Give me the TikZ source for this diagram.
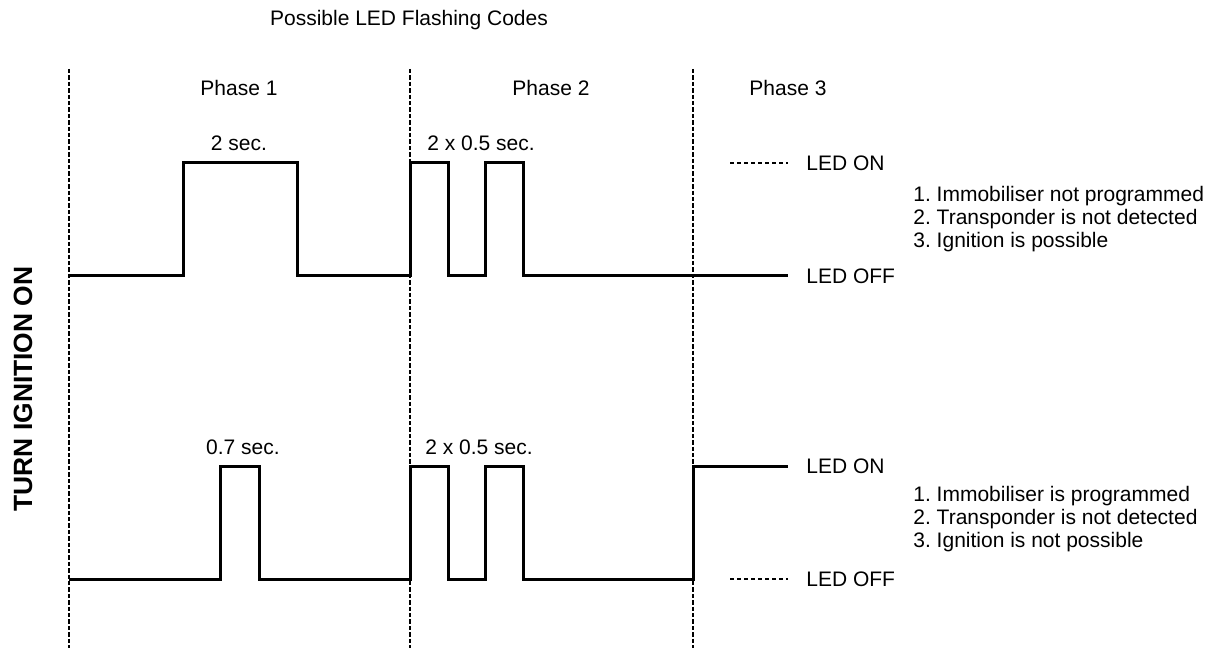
\documentclass[tikz,border=0pt]{standalone}
\usepackage{fontspec}
\setmainfont{Liberation Sans}
\usetikzlibrary{positioning}
\definecolor{ledBlack}{RGB}{0, 0, 0}
\frenchspacing

\begin{document}
\begin{tikzpicture}[
    x=0.5pt, y=-0.5pt,
    wave/.style={line width=1.5pt, ledBlack, line join=miter},
    phaseline/.style={line width=0.7pt, ledBlack, dash pattern=on 2.2pt off 1pt},
    legline/.style={line width=0.6pt, ledBlack, dash pattern=on 2.2pt off 1.3pt},
    lbl/.style={inner sep=0pt, font=\fontsize{10.5}{11.5}\selectfont},
    cond/.style={lbl, anchor=west, align=left},
    side/.style={inner sep=0pt, rotate=90, font=\fontsize{13.2}{14}\selectfont\bfseries}
  ]
    \useasboundingbox (0,0) rectangle (1215,652);

    \node[lbl] (title) at (409,20) {Possible LED Flashing Codes};
    \node[side] (ign) at (23,389) {TURN IGNITION ON};

    \node[lbl] (ph1) at (239,88) {Phase 1};
    \node[lbl] (ph2) at (551,88) {Phase 2};
    \node[lbl] (ph3) at (788,88) {Phase 3};

    \draw[phaseline] (69,69) -- (69,648);
    \draw[phaseline] (410,69) -- (410,648);
    \draw[phaseline] (693,69) -- (693,648);

    % code A
    \node[lbl] (secA) at (239,143) {2 sec.};
    \node[lbl] (halfA) at (481,143) {2 x 0.5 sec.};
    \draw[wave] (69,276) -- (183,276) -- (183,163) -- (297,163) -- (297,276)
      -- (410,276) -- (410,163) -- (448,163) -- (448,276) -- (485,276)
      -- (485,163) -- (523,163) -- (523,276) -- (788,276);
    \node[lbl, anchor=west] (onA) at (806,163) {LED ON};
    \node[lbl, anchor=west] (offA) at (806,276) {LED OFF};
    \draw[legline] (730,163) -- (788,163);
    \node[cond] (condA) at (913,219) {1. Immobiliser not programmed\\2. Transponder is not detected\\3. Ignition is possible};

    % code B
    \node[lbl] (secB) at (243,447) {0.7 sec.};
    \node[lbl] (halfB) at (479,447) {2 x 0.5 sec.};
    \draw[wave] (69,579) -- (220,579) -- (220,466) -- (259,466) -- (259,579)
      -- (410,579) -- (410,466) -- (448,466) -- (448,579) -- (485,579)
      -- (485,466) -- (523,466) -- (523,579) -- (693,579) -- (693,466) -- (788,466);
    \node[lbl, anchor=west] (onB) at (806,466) {LED ON};
    \node[lbl, anchor=west] (offB) at (806,579) {LED OFF};
    \draw[legline] (730,579) -- (788,579);
    \node[cond] (condB) at (913,519) {1. Immobiliser is programmed\\2. Transponder is not detected\\3. Ignition is not possible};
  \end{tikzpicture}
\end{document}
